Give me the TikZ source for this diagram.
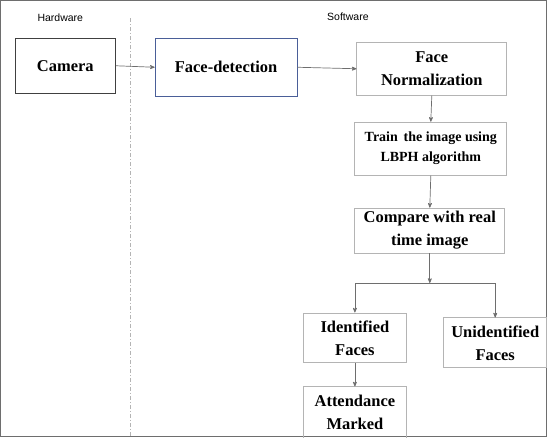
\documentclass[tikz,border=0pt]{standalone}
\usepackage{fontspec}
\setmainfont{Liberation Serif}
\setsansfont{Liberation Sans}
\usetikzlibrary{arrows,positioning}

\definecolor{linegray}{HTML}{6E6E6E}
\definecolor{boxgray}{HTML}{B4B4B4}
\definecolor{boxblue}{HTML}{4A5E98}

\begin{document}
\begin{tikzpicture}[x=1pt,y=-1pt,->,>=stealth',
		main node/.style={rectangle,draw=boxgray,line width=0.9pt,align=center,inner sep=0pt,
			font=\fontsize{16.5}{23}\selectfont\bfseries},
		small node/.style={main node,font=\fontsize{14}{20}\selectfont\bfseries},
		side label/.style={font=\sffamily\fontsize{10.5}{12}\selectfont},
		every path/.style={draw=linegray,line width=0.7pt}]

\useasboundingbox (0,0) rectangle (547,437);

% hardware / software split
\node[side label] (HW) at (60,17) {Hardware};
\node[side label] (SW) at (348,16) {Software};
\coordinate (DivTop) at (130,18);
\coordinate (DivBot) at (130,437);
\draw[-,draw=boxgray,line width=0.6pt,dash pattern=on 4pt off 2pt on 1pt off 2pt] (DivTop) -- (DivBot);

\node (Camera) [main node,draw=black!75,line width=1.1pt,minimum width=100pt,minimum height=55pt] at (65,65.5) {Camera};
\node (Detect) [main node,draw=boxblue,minimum width=142pt,minimum height=58pt] at (226,67) {Face-detection};
\node (Norm) [main node,minimum width=150pt,minimum height=53pt] at (432,68.5) {Face\\Normalization};
\node (Train) [small node,minimum width=152pt,minimum height=53pt] at (431,148.5) {Train\, the image using\\LBPH algorithm};
\node (Compare) [main node,minimum width=150pt,minimum height=45pt] at (430,230.5) {Compare with real\\time image};
\coordinate (Split) at (430,283);
\node (Ident) [main node,minimum width=104pt,minimum height=50pt] at (355,338) {Identified\\Faces};
\node (Unident) [main node,minimum width=103pt,minimum height=50pt] at (495.5,343) {Unidentified\\Faces};
\node (Attend) [main node,minimum width=104pt,minimum height=52pt] at (355,413) {Attendance\\Marked};

\draw (Camera.east) -- (Detect.west);
\draw (Detect.east) -- (Norm.west);
\draw (Norm.south) -- (Train.north);
\draw (Train.south) -- (Compare.north);
\draw (Compare.south) -- (Split);
\draw (Split) -| (Ident.north);
\draw (Split) -| (Unident.north);
\draw (Ident.south) -- (Attend.north);

\end{tikzpicture}
\end{document}
